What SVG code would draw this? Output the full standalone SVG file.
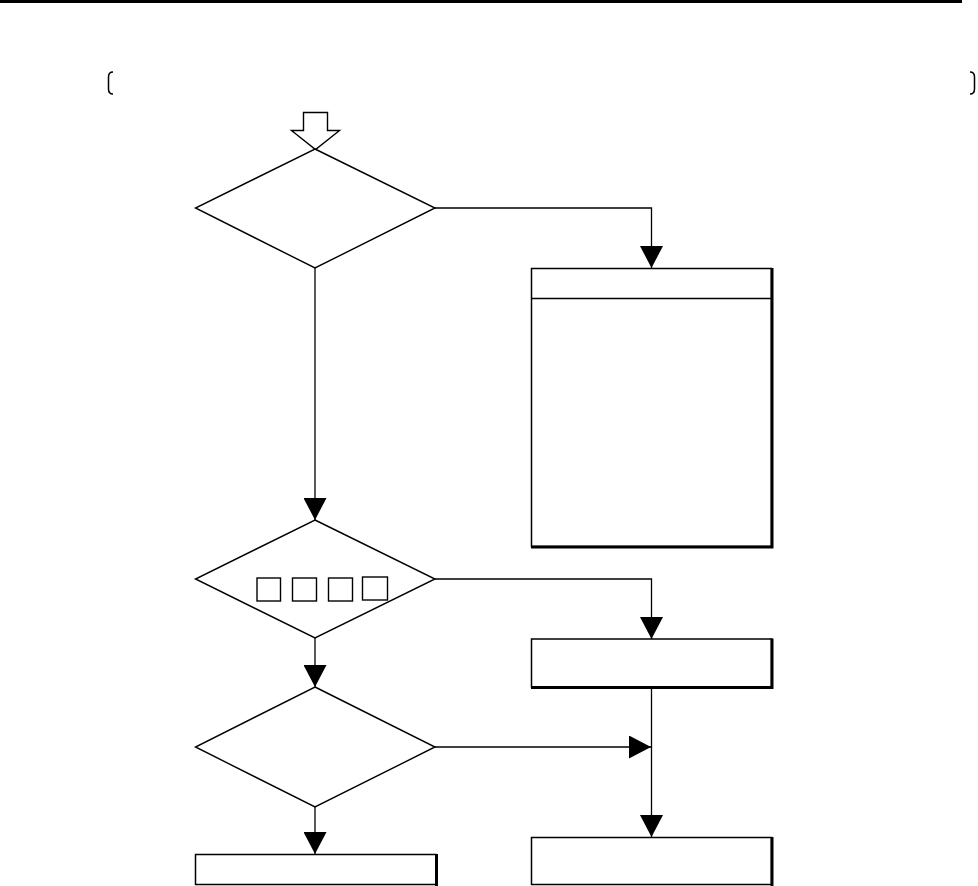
<svg xmlns="http://www.w3.org/2000/svg" width="978" height="886" viewBox="0 0 978 886">
<style>
.shape{fill:#fff;stroke:#000;stroke-width:1.4}
.box{fill:#fff;stroke:#000;stroke-width:1.5}
.shadow{fill:none;stroke:#000;stroke-width:3}
.conn{fill:none;stroke:#000;stroke-width:1.3}
.br{fill:none;stroke:#000;stroke-width:1.5}
</style>
<defs>
<marker id="ah" viewBox="0 0 22 23" markerWidth="22" markerHeight="23" refX="22" refY="11.5" orient="auto" markerUnits="userSpaceOnUse">
<path d="M0,0 L22,11.5 L0,23 z" fill="#000"/>
</marker>
</defs>
<rect width="978" height="886" fill="#fff"/>
<rect x="0" y="0" width="962" height="3" fill="#000"/>
<path class="br" d="M113,72 Q108.5,72 108.5,77 L108.5,89 Q108.5,94 113,94"/>
<path class="br" d="M970,72 Q974.5,72 974.5,77 L974.5,89 Q974.5,94 970,94"/>
<g id="connectors">
<path class="conn" d="M315,268 L315,520" marker-end="url(#ah)"/>
<path class="conn" d="M435,208 L651.5,208 L651.5,268" marker-end="url(#ah)"/>
<path class="conn" d="M315,638 L315,687" marker-end="url(#ah)"/>
<path class="conn" d="M435,579 L651.5,579 L651.5,639" marker-end="url(#ah)"/>
<path class="conn" d="M435,747 L651,747" marker-end="url(#ah)"/>
<path class="conn" d="M651.5,687 L651.5,837" marker-end="url(#ah)"/>
<path class="conn" d="M315,807 L315,854" marker-end="url(#ah)"/>
</g>
<g id="start">
<path class="shape" d="M303.5,112.5 L327.5,112.5 L327.5,130.5 L339.5,130.5 L315.5,149.5 L291.5,130.5 L303.5,130.5 z"/>
</g>
<g id="decision1">
<polygon class="shape" points="315,149 435,208 315,268 195.5,208"/>
</g>
<g id="box1">
<rect class="box" x="531.5" y="268.5" width="240" height="278"/>
<line class="box" x1="531.5" y1="298.5" x2="771.5" y2="298.5"/>
<path class="shadow" d="M772,268 L772,547 L531,547"/>
</g>
<g id="decision2">
<polygon class="shape" points="315,520 435,579 315,638 195.5,579"/>
<rect class="shape" x="257" y="578" width="23.5" height="23"/>
<rect class="shape" x="292.5" y="578" width="24" height="23"/>
<rect class="shape" x="328.5" y="578" width="24" height="23"/>
<rect class="shape" x="362.5" y="577" width="25" height="23"/>
</g>
<g id="box2">
<rect class="box" x="531.5" y="639" width="240" height="48"/>
<path class="shadow" d="M772,638.5 L772,687.5 L531,687.5"/>
</g>
<g id="box3">
<rect class="box" x="531.5" y="837.5" width="240" height="47"/>
<path class="shadow" d="M772,837 L772,886"/>
</g>
<g id="decision3">
<polygon class="shape" points="315,687 435,747 315,807 195.5,747"/>
</g>
<g id="box4">
<rect class="box" x="195.5" y="854.5" width="240.5" height="30"/>
<path class="shadow" d="M436.5,854 L436.5,886"/>
</g>
</svg>
